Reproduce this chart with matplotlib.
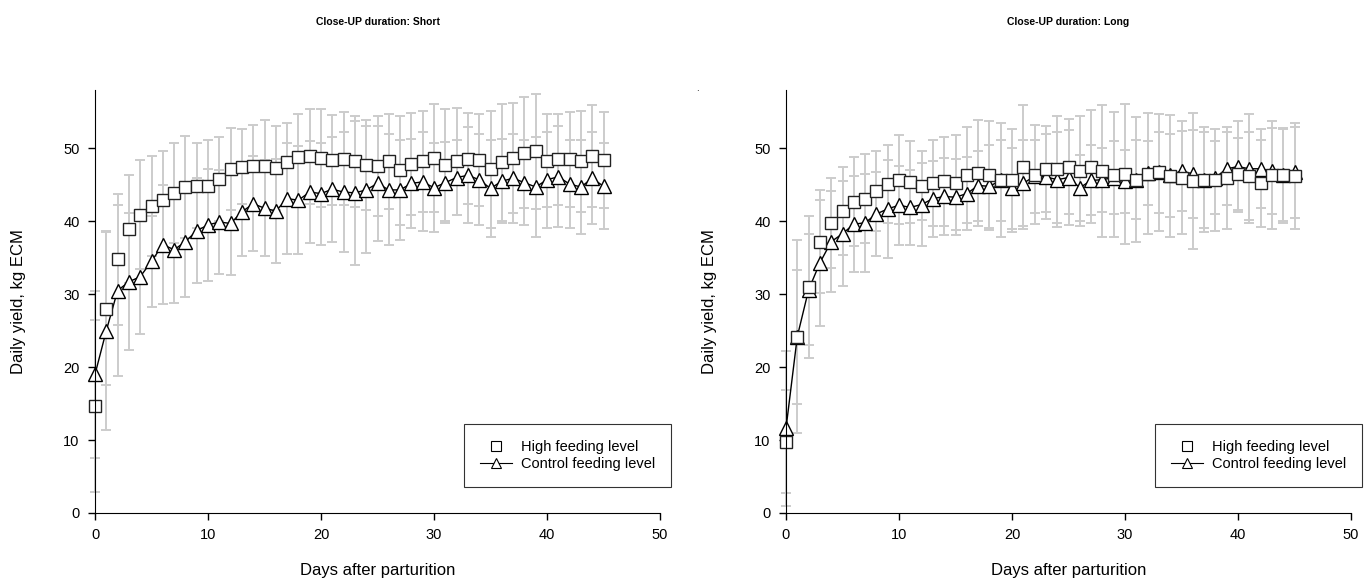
import numpy as np
import matplotlib
matplotlib.use("Agg")
import matplotlib.pyplot as plt
from matplotlib.lines import Line2D

plt.rcParams['font.family'] = ['Liberation Sans', 'DejaVu Sans']

days = np.arange(0, 46)

# Close-UP duration: Short
short_high = [14.7, 28.0, 34.8, 39.0, 40.9, 42.1, 42.9, 43.9, 44.7, 44.9, 44.9, 45.8, 47.2, 47.5, 47.6, 47.6,
              47.3, 48.1, 48.8, 48.9, 48.7, 48.4, 48.6, 48.2, 47.7, 47.6, 48.2, 47.0, 47.9, 48.2, 48.7, 47.7,
              48.2, 48.6, 48.4, 47.1, 48.1, 48.7, 49.4, 49.6, 48.3, 48.5, 48.5, 48.2, 48.9, 48.4]
short_high_sd = [11.8, 10.5, 9.0, 7.4, 7.5, 6.8, 6.7, 6.9, 7.0, 5.8, 6.2, 5.8, 5.6, 5.1, 5.6, 6.3,
                 5.7, 5.4, 5.9, 6.5, 6.7, 6.2, 6.4, 6.2, 6.2, 6.9, 6.5, 7.5, 7.0, 6.9, 7.4, 7.7,
                 7.3, 6.2, 6.3, 8.0, 8.0, 7.5, 7.6, 7.9, 6.4, 6.2, 6.5, 6.9, 7.0, 6.6]
short_ctrl = [19.0, 25.0, 30.5, 31.7, 32.4, 34.5, 36.8, 36.1, 37.2, 38.7, 39.5, 39.9, 39.7, 41.3, 42.4, 41.8,
              41.4, 43.1, 42.9, 44.0, 43.8, 44.4, 44.0, 43.9, 44.3, 45.2, 44.3, 44.3, 45.2, 45.4, 44.6, 45.3,
              46.0, 46.3, 45.7, 44.5, 45.5, 45.9, 45.3, 44.7, 45.7, 46.1, 45.1, 44.7, 45.9, 44.8]
short_ctrl_sd = [11.5, 13.6, 11.7, 9.4, 7.8, 6.2, 8.2, 7.3, 7.6, 7.2, 7.7, 7.1, 7.1, 6.1, 6.5, 6.6,
                 7.1, 7.6, 7.4, 7.0, 7.0, 7.2, 8.2, 9.9, 8.7, 7.9, 7.6, 6.8, 6.1, 6.8, 6.1, 5.6,
                 5.2, 6.6, 6.2, 6.6, 5.8, 6.1, 5.8, 6.8, 6.6, 6.9, 6.0, 6.5, 6.3, 5.9]

# Close-UP duration: Long
long_high = [9.8, 24.1, 31.0, 37.2, 39.8, 41.4, 42.7, 43.1, 44.2, 45.1, 45.7, 45.4, 44.9, 45.3, 45.5, 45.3,
             46.3, 46.6, 46.3, 45.7, 45.6, 47.5, 46.4, 47.2, 47.1, 47.5, 46.9, 47.5, 46.9, 46.4, 46.5, 45.7,
             46.5, 46.7, 46.2, 46.0, 45.5, 45.7, 45.7, 45.9, 46.5, 46.2, 45.2, 46.3, 46.3, 46.2]
long_high_sd = [7.0, 9.2, 9.7, 7.1, 6.2, 6.0, 6.1, 6.1, 5.5, 5.4, 6.1, 5.6, 4.7, 5.9, 6.1, 6.5,
                6.6, 7.3, 7.5, 7.8, 7.1, 8.5, 6.8, 5.9, 7.4, 6.5, 7.5, 7.7, 9.0, 8.6, 9.6, 8.6,
                8.3, 8.0, 8.4, 7.7, 9.3, 7.2, 7.0, 7.0, 4.9, 6.0, 6.0, 7.4, 6.5, 7.3]
long_ctrl = [11.6, 24.2, 30.6, 34.3, 37.2, 38.3, 39.6, 39.8, 41.0, 41.7, 42.2, 41.9, 42.3, 43.1, 43.4, 43.3,
             43.8, 44.9, 44.8, 45.6, 44.5, 45.2, 46.2, 46.1, 45.7, 46.0, 44.6, 45.6, 45.7, 46.0, 45.5, 45.7,
             46.6, 46.7, 46.3, 46.9, 46.5, 45.7, 46.0, 47.2, 47.5, 47.2, 47.2, 46.9, 46.4, 46.7]
long_ctrl_sd = [10.6, 13.2, 7.6, 8.6, 6.9, 7.2, 6.6, 6.7, 5.8, 6.7, 5.4, 5.1, 5.7, 5.2, 5.3, 5.2,
                5.0, 4.8, 5.7, 5.5, 5.5, 5.9, 5.0, 5.8, 6.5, 6.5, 4.5, 4.8, 4.4, 5.0, 4.3, 5.4,
                4.4, 5.5, 5.7, 5.5, 6.0, 6.6, 5.0, 5.0, 6.2, 7.5, 5.4, 5.9, 6.3, 6.2]

titles = ["Close-UP duration: Short", "Close-UP duration: Long"]
panels = [(short_high, short_high_sd, short_ctrl, short_ctrl_sd),
          (long_high, long_high_sd, long_ctrl, long_ctrl_sd)]

W, H = 1370, 582
fig = plt.figure(figsize=(W / 100, H / 100), dpi=100)
err_col = '#cccccc'

lefts = [95, 786]
for i, (hi, hi_sd, ct, ct_sd) in enumerate(panels):
    ax = fig.add_axes([lefts[i] / W, (H - 513) / H, 565 / W, 423 / H])
    ax.errorbar(days, hi, yerr=hi_sd, fmt='none', ecolor=err_col, elinewidth=1.4,
                capsize=3.8, capthick=1.4, clip_on=False, zorder=1)
    ax.errorbar(days, ct, yerr=ct_sd, fmt='none', ecolor=err_col, elinewidth=1.4,
                capsize=3.8, capthick=1.4, clip_on=False, zorder=1)
    ax.plot(days, ct, color='black', lw=1.0, marker='^', ms=10, mfc='white', mec='black',
            mew=1.0, clip_on=False, zorder=3)
    ax.plot(days, hi, ls='none', marker='s', ms=9, mfc='white', mec='#222222',
            mew=1.0, clip_on=False, zorder=4)

    ax.set_xlim(0, 50)
    ax.set_ylim(0, 58)
    ax.set_xticks([0, 10, 20, 30, 40, 50])
    ax.set_yticks([0, 10, 20, 30, 40, 50])
    ax.spines['top'].set_visible(False)
    ax.spines['right'].set_visible(False)
    ax.spines['left'].set_zorder(5)
    ax.spines['bottom'].set_zorder(5)
    ax.tick_params(direction='out', length=5, width=1, labelsize=10.5, pad=6)
    ax.set_xlabel("Days after parturition", fontsize=12, labelpad=15)
    ax.set_ylabel("Daily yield, kg ECM", fontsize=12, labelpad=27)
    ax.text(0.5, 1 + (90 - 22) / 423, titles[i], transform=ax.transAxes, ha='center',
            va='center', fontsize=7.5, fontweight='bold')

    handles = [Line2D([], [], ls='none', marker='s', ms=7.5, mfc='white', mec='black', mew=0.8),
               Line2D([], [], color='black', lw=0.8, marker='^', ms=7.5, mfc='white', mec='black', mew=0.8)]
    leg = ax.legend(handles, ["High feeding level", "Control feeding level"],
                    loc='lower right', bbox_to_anchor=(1.033, 0.045), fontsize=10.5,
                    frameon=True, fancybox=False, edgecolor='black', handlelength=2.2,
                    borderpad=1.1, labelspacing=0.2, handletextpad=0.6)
    leg.get_frame().set_linewidth(0.8)
    leg.set_zorder(10)

fig.text(697 / W, 1 - 88 / H, '.', fontsize=7, ha='center', va='center')

fig.savefig("out.png", dpi=100)
